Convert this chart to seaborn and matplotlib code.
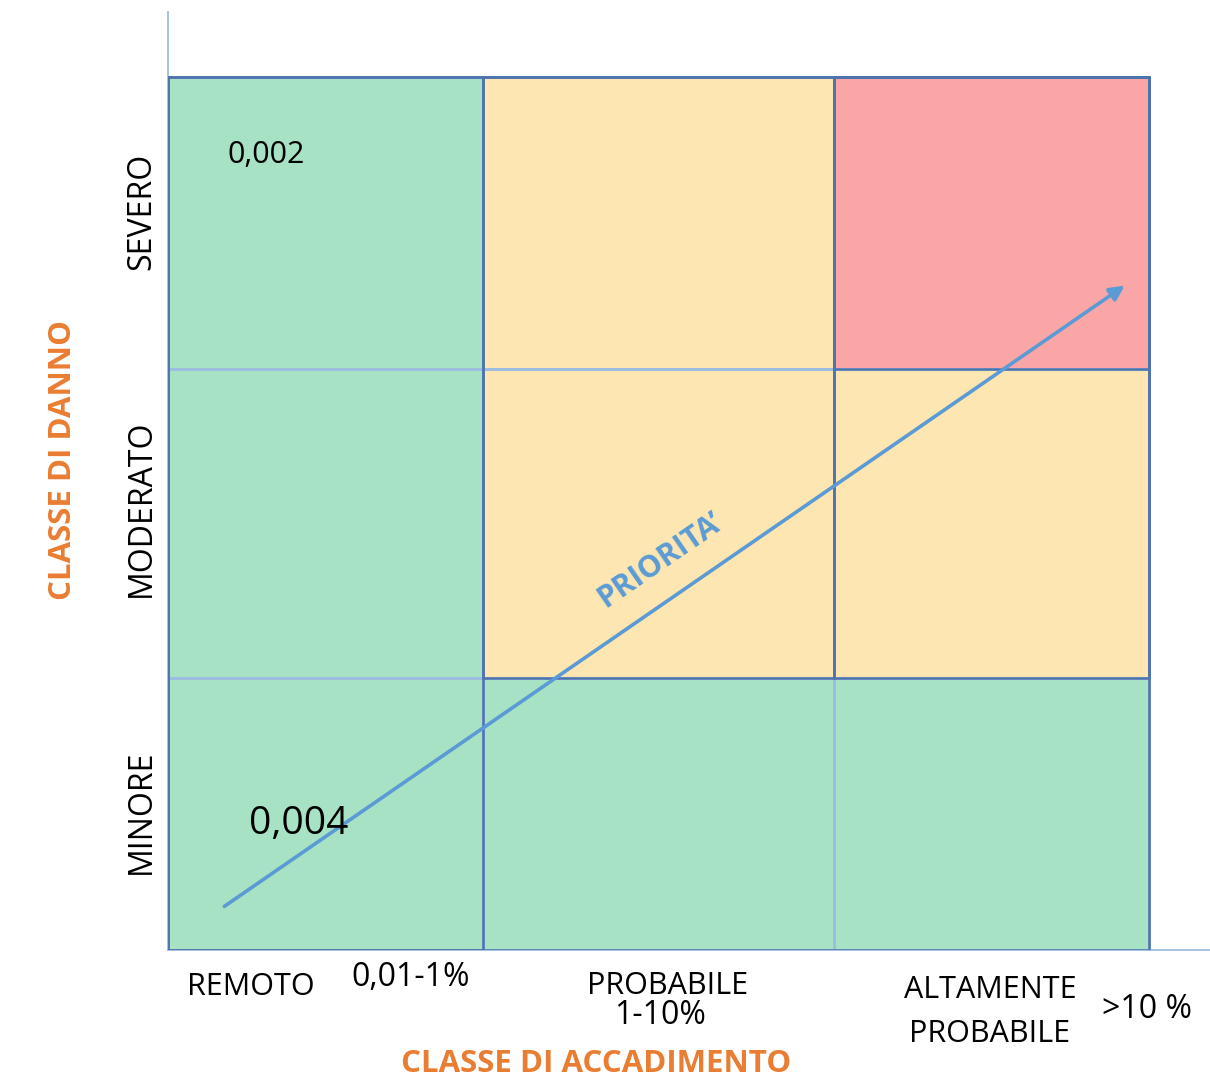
import numpy as np
import pandas as pd
import matplotlib.pyplot as plt
from matplotlib.colors import ListedColormap
from matplotlib.patches import Rectangle
import seaborn as sns

# Risk matrix data
damage_classes = ["SEVERO", "MODERATO", "MINORE"]
occurrence_classes = ["REMOTO", "PROBABILE", "ALTAMENTE\nPROBABILE"]
occurrence_ranges = ["0,01-1%", "1-10%", ">10 %"]
risk_level = [
    [1, 2, 3],
    [1, 2, 2],
    [1, 1, 1],
]
cell_notes = ["0,002", "0,004"]

W, H = 1210, 1087
sns.set_style("white")
plt.rcParams['font.family'] = ['Open Sans', 'DejaVu Sans']
plt.rcParams['text.color'] = 'black'

green, yellow, red = "#a8e2c4", "#fde6b2", "#fba6a6"
dark_line = "#4f74ad"
light_line = "#9dbde0"
arrow_blue = "#5b9bd5"
orange = "#e97d32"


def fx(px):
    return px / W


def fy(py):
    return 1 - py / H


def cell_scale(edges):
    # piecewise-linear scale so the cells keep the unequal widths of the original drawing
    knots = [-1, 0, 1, 2, 3, 4]
    px = [2 * edges[0] - edges[1]] + list(edges) + [2 * edges[-1] - edges[-2]]
    return (lambda v: np.interp(v, knots, px)), (lambda p: np.interp(p, px, knots))


fig = plt.figure(figsize=(W / 100, H / 100), dpi=100)
# axes spans the whole drawn frame, the 3x3 grid sits in its lower-left part
ax = fig.add_axes([fx(168), fy(950), fx(1210) - fx(168), fy(12) - fy(950)])

df = pd.DataFrame(risk_level, index=damage_classes, columns=occurrence_classes)
sns.heatmap(df, ax=ax, cmap=ListedColormap([green, yellow, red]), vmin=0.5, vmax=3.5,
            cbar=False, linewidths=1, linecolor=light_line,
            xticklabels=False, yticklabels=True)

xfwd, xinv = cell_scale([168, 483, 834, 1149])
yfwd, yinv = cell_scale([77, 369, 678, 950])
ax.set_xscale("function", functions=(xfwd, xinv))
ax.set_yscale("function", functions=(yfwd, yinv))
ax.set_xlim(0, xinv(1210))
ax.set_ylim(3, yinv(12))

for side in ["left", "bottom"]:
    ax.spines[side].set_visible(True)
    ax.spines[side].set_color(light_line)
    ax.spines[side].set_linewidth(1.3)

# darker borders around the coloured blocks
for x0, y0, w, h in [(0, 0, 3, 3), (0, 0, 1, 3), (1, 0, 1, 2), (2, 0, 1, 2), (2, 0, 1, 1)]:
    ax.add_patch(Rectangle((x0, y0), w, h, fill=False, edgecolor=dark_line, lw=1.8, zorder=3))

ax.set_xticks([])
ax.set_yticks([0.46, 1.45, 2.49])
ax.set_yticklabels(damage_classes, rotation=90, va="center", fontsize=23, color="black")
ax.tick_params(axis="y", length=0, pad=7)
ax.minorticks_off()
ax.set_xlabel("")
ax.set_ylabel("")

# priority arrow
ax.annotate("", xy=(fx(1127), fy(284)), xytext=(fx(222), fy(908)),
            xycoords="figure fraction", textcoords="figure fraction",
            arrowprops=dict(arrowstyle="-|>", color=arrow_blue, lw=2.6, mutation_scale=22),
            zorder=4)
fig.text(fx(660), fy(560), "PRIORITA\u2019", rotation=34.6,
         rotation_mode="anchor", ha="center", va="center", fontsize=22,
         fontweight="bold", color=arrow_blue, zorder=4)

# notes inside the REMOTO column
fig.text(fx(266), fy(155), cell_notes[0], ha="center", va="center", fontsize=22, zorder=4)
fig.text(fx(299), fy(824), cell_notes[1], ha="center", va="center", fontsize=28, zorder=4)

# occurrence class labels below the grid
fig.text(fx(251), fy(987), occurrence_classes[0], ha="center", va="center", fontsize=22)
fig.text(fx(411), fy(977), occurrence_ranges[0], ha="center", va="center", fontsize=23)
fig.text(fx(668), fy(986), occurrence_classes[1], ha="center", va="center", fontsize=22)
fig.text(fx(660), fy(1015), occurrence_ranges[1], ha="center", va="center", fontsize=23)
fig.text(fx(990), fy(1012), occurrence_classes[2], ha="center", va="center", fontsize=22,
         linespacing=1.6)
fig.text(fx(1147), fy(1010), occurrence_ranges[2], ha="center", va="center", fontsize=23)

# axis titles
fig.text(fx(596), fy(1064), "CLASSE DI ACCADIMENTO", ha="center", va="center",
         fontsize=22.5, fontweight="bold", color=orange)
fig.text(fx(63), fy(460), "CLASSE DI DANNO", ha="center", va="center", rotation=90,
         fontsize=22.5, fontweight="bold", color=orange)

fig.savefig("out.png", dpi=100)
